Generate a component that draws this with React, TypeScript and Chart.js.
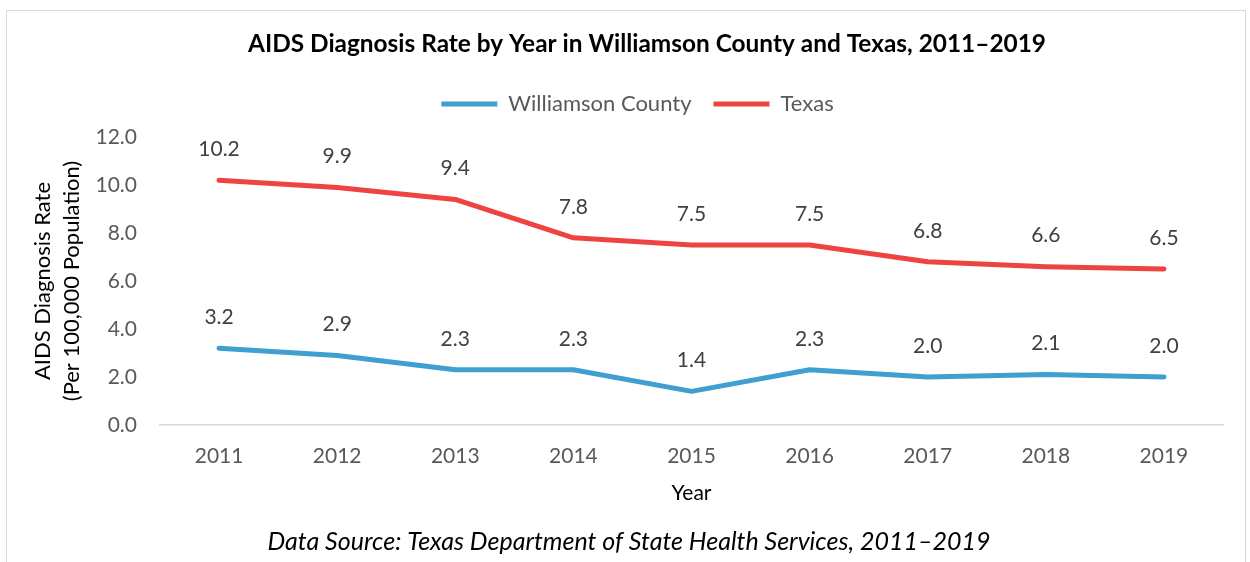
import React, { useEffect, useRef } from "react";
import { Chart, registerables } from "chart.js";

Chart.register(...registerables);

const years = ["2011", "2012", "2013", "2014", "2015", "2016", "2017", "2018", "2019"];
const williamsonRates = [3.2, 2.9, 2.3, 2.3, 1.4, 2.3, 2.0, 2.1, 2.0];
const texasRates = [10.2, 9.9, 9.4, 7.8, 7.5, 7.5, 6.8, 6.6, 6.5];

const BLUE = "#3E9FD1";
const RED = "#EE4341";
const FONT = "Lato, 'Open Sans', sans-serif";

const dataLabelPlugin = {
  id: "dataLabels",
  afterDatasetsDraw(chart: any) {
    const ctx = chart.ctx;
    ctx.save();
    ctx.font = `21px ${FONT}`;
    ctx.fillStyle = "#404040";
    ctx.textAlign = "center";
    ctx.textBaseline = "middle";
    chart.data.datasets.forEach((ds: any, i: number) => {
      const meta = chart.getDatasetMeta(i);
      meta.data.forEach((pt: any, j: number) => {
        ctx.fillText(Number(ds.data[j]).toFixed(1), pt.x, pt.y - 31);
      });
    });
    ctx.restore();
  },
};

function shiftDraw(box: any, dx: number) {
  if (!box || box._shiftPatched) return;
  const orig = box.draw.bind(box);
  box.draw = function (...args: any[]) {
    const ctx = this.ctx;
    ctx.save();
    ctx.translate(dx, 0);
    orig(...args);
    ctx.restore();
  };
  box._shiftPatched = true;
}

// Extra space under the legend row and horizontal nudges of the header/footer blocks.
const blockTunePlugin = {
  id: "blockTune",
  beforeLayout(chart: any) {
    const lg = chart.legend;
    if (lg && !lg._spacePatched) {
      const orig = lg.fit.bind(lg);
      lg.fit = function () {
        orig();
        this.height += 12;
      };
      lg._spacePatched = true;
    }
    shiftDraw(lg, 16);
    const tb = chart.titleBlock;
    shiftDraw(tb, 25.5);
    if (tb) {
      const sub = (chart.boxes || []).find(
        (b: any) => b !== tb && b.constructor === tb.constructor
      );
      shiftDraw(sub, 7.5);
    }
  },
};

export default function App() {
  const canvasRef = useRef<HTMLCanvasElement | null>(null);

  useEffect(() => {
    const canvas = canvasRef.current;
    if (!canvas) return;
    const chart = new Chart(canvas, {
      type: "line",
      data: {
        labels: years,
        datasets: [
          {
            label: "Williamson County",
            data: williamsonRates,
            borderColor: BLUE,
            backgroundColor: BLUE,
            borderWidth: 5,
            borderCapStyle: "round",
            borderJoinStyle: "round",
            pointRadius: 0,
            tension: 0,
          },
          {
            label: "Texas",
            data: texasRates,
            borderColor: RED,
            backgroundColor: RED,
            borderWidth: 5,
            borderCapStyle: "round",
            borderJoinStyle: "round",
            pointRadius: 0,
            tension: 0,
          },
        ],
      },
      options: {
        responsive: false,
        animation: false,
        layout: { padding: { left: 20, right: 27, top: 12, bottom: 0 } },
        plugins: {
          title: {
            display: true,
            text: "AIDS Diagnosis Rate by Year in Williamson County and Texas, 2011–2019",
            color: "#000000",
            font: { family: FONT, size: 24.4, weight: "bold" },
            padding: { top: 17.4, bottom: 12.4 },
          },
          legend: {
            display: true,
            labels: {
              font: { family: FONT, size: 22 },
              color: "#595959",
              boxWidth: 56,
              boxHeight: 5,
              padding: 22,
              generateLabels: (chart: any) =>
                chart.data.datasets.map((ds: any, i: number) => ({
                  text: ds.label,
                  fillStyle: ds.borderColor,
                  strokeStyle: ds.borderColor,
                  lineWidth: 0,
                  fontColor: "#595959",
                  datasetIndex: i,
                  hidden: false,
                })),
            },
          },
          subtitle: {
            display: true,
            position: "bottom",
            text: "Data Source: Texas Department of State Health Services, 2011–2019",
            color: "#000000",
            font: { family: FONT, size: 25, style: "italic" },
            padding: { top: 10, bottom: 5 },
          },
          tooltip: { enabled: false },
        },
        scales: {
          x: {
            offset: true,
            grid: { display: false },
            border: { display: true, color: "#d9d9d9", width: 1.5 },
            ticks: { color: "#595959", font: { family: FONT, size: 21 }, padding: 11 },
            title: {
              display: true,
              text: "Year",
              color: "#000000",
              font: { family: FONT, size: 21 },
              padding: { top: 0, bottom: 11.4 },
            },
            afterFit: (s: any) => {
              s.height = 92;
            },
          },
          y: {
            min: 0,
            max: 12,
            grid: { display: false },
            border: { display: false },
            ticks: {
              stepSize: 2,
              color: "#595959",
              font: { family: FONT, size: 21 },
              padding: 15,
              callback: (v: any) => Number(v).toFixed(1),
            },
            title: {
              display: true,
              text: ["AIDS Diagnosis Rate", "(Per 100,000 Population)"],
              color: "#000000",
              font: { family: FONT, size: 22, lineHeight: 1.32 },
              padding: { top: 8.5, bottom: 0 },
            },
            afterFit: (s: any) => {
              s.width = 140;
            },
          },
        },
      },
      plugins: [dataLabelPlugin, blockTunePlugin],
    } as any);
    return () => chart.destroy();
  }, []);

  return (
    <div
      style={{
        position: "fixed",
        left: 0,
        top: 0,
        width: 1250,
        height: 562,
        overflow: "hidden",
        background: "#ffffff",
      }}
    >
      <div
        style={{
          position: "absolute",
          left: 6,
          top: 10,
          width: 1240,
          height: 600,
          border: "1px solid #d9d9d9",
          boxSizing: "border-box",
        }}
      />
      <canvas
        ref={canvasRef}
        width={1250}
        height={562}
        style={{ position: "absolute", left: 0, top: 0, width: 1250, height: 562 }}
      />
    </div>
  );
}
